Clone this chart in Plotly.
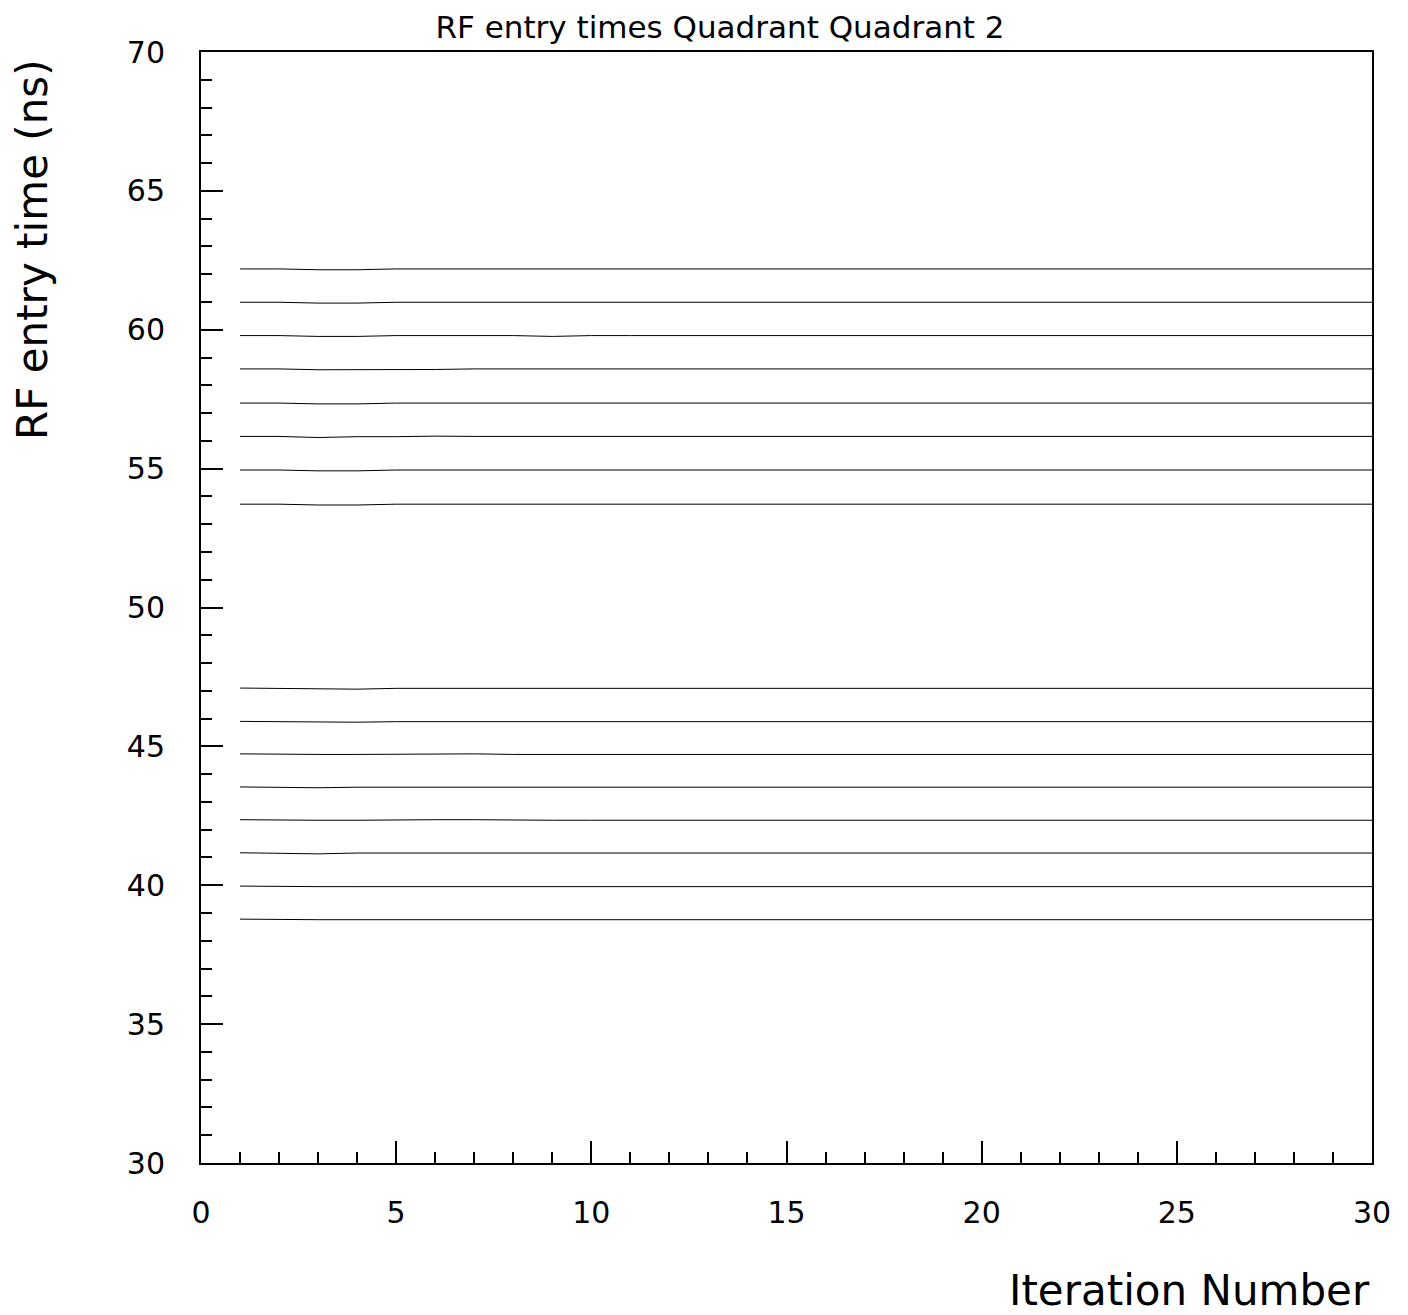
import plotly.graph_objects as go

iterations = list(range(1, 31))

# Leading values of each RF-entry-time series (ns); remaining iterations hold the last value
series_heads = [
    [62.19, 62.19, 62.16, 62.16, 62.19],
    [60.99, 60.99, 60.96, 60.96, 60.99],
    [59.79, 59.79, 59.76, 59.76, 59.79, 59.79, 59.79, 59.79, 59.76, 59.79],
    [58.59, 58.59, 58.56, 58.56, 58.57, 58.57, 58.59],
    [57.36, 57.36, 57.33, 57.33, 57.36],
    [56.16, 56.16, 56.12, 56.15, 56.15, 56.17, 56.16],
    [54.95, 54.95, 54.92, 54.92, 54.95],
    [53.72, 53.72, 53.69, 53.69, 53.72],
    [47.10, 47.09, 47.06, 47.06, 47.09],
    [45.90, 45.89, 45.87, 45.87, 45.89],
    [44.73, 44.71, 44.71, 44.71, 44.72, 44.73, 44.73, 44.71],
    [43.54, 43.53, 43.51, 43.53],
    [42.36, 42.34, 42.34, 42.34, 42.36, 42.36, 42.36, 42.34],
    [41.17, 41.16, 41.13, 41.16],
    [39.97, 39.95],
    [38.78, 38.76],
]

x_ticks = [0, 5, 10, 15, 20, 25, 30]
y_ticks = [30, 35, 40, 45, 50, 55, 60, 65, 70]

fig = go.Figure()
for head in series_heads:
    vals = head + [head[-1]] * (len(iterations) - len(head))
    fig.add_trace(go.Scatter(x=iterations, y=vals, mode="lines",
                             line=dict(color="black", width=1), showlegend=False,
                             hoverinfo="skip"))

FONT = "DejaVu Sans, Liberation Sans, sans-serif"
tick_font = dict(family=FONT, size=30, color="black")

W, H = 1400, 1307  # page body adds an 8px offset
fig.update_layout(
    width=W, height=H,
    margin=dict(l=193, r=36, t=44, b=152),
    paper_bgcolor="white", plot_bgcolor="white",
    title=dict(text="RF entry times Quadrant Quadrant 2", x=(720 - 201) / 1171, xref="paper",
               xanchor="center", y=1 - 19 / H, yanchor="middle",
               font=dict(family=FONT, size=31, color="black")),
    showlegend=False,
)
fig.update_xaxes(range=[0, 30], tickvals=x_ticks, ticktext=[str(v) for v in x_ticks],
                 ticks="inside", ticklen=22, tickwidth=2, tickcolor="black",
                 minor=dict(dtick=1, tick0=0, ticks="inside", ticklen=11, tickwidth=2, tickcolor="black"),
                 showline=True, linecolor="black", linewidth=2, mirror=True,
                 showgrid=False, zeroline=False, tickfont=tick_font, ticklabelstandoff=22)
fig.update_yaxes(range=[30, 70], tickvals=y_ticks, ticktext=[str(v) for v in y_ticks],
                 ticks="inside", ticklen=22, tickwidth=2, tickcolor="black",
                 minor=dict(dtick=1, tick0=30, ticks="inside", ticklen=11, tickwidth=2, tickcolor="black"),
                 showline=True, linecolor="black", linewidth=2, mirror=True,
                 showgrid=False, zeroline=False, tickfont=tick_font, ticklabelstandoff=28)

fig.add_annotation(text="RF entry time (ns)", textangle=-90, xref="paper", yref="paper",
                   x=(33 - 201) / 1171, y=1 - (250 - 52) / 1111, xanchor="center", yanchor="middle",
                   showarrow=False,
                   font=dict(family=FONT, size=42, color="black"))
fig.add_annotation(text="Iteration Number", xref="paper", yref="paper",
                   x=1, y=-(1290 - 1163) / 1111, xanchor="right", yanchor="middle",
                   showarrow=False,
                   font=dict(family=FONT, size=42, color="black"))

fig.write_html("out.html")
